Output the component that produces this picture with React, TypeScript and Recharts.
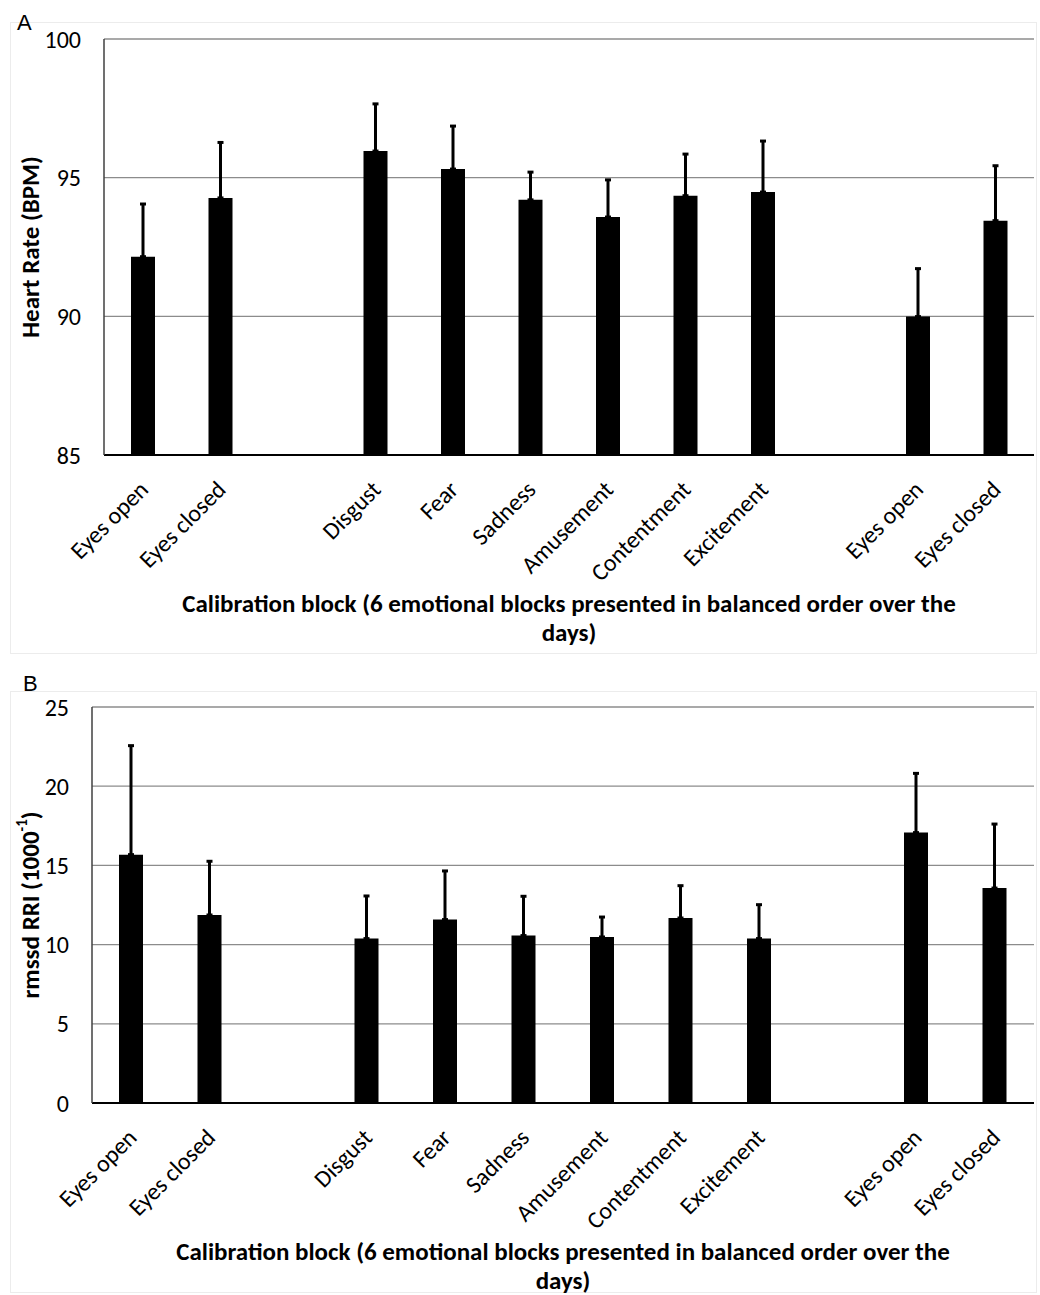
import React from "react";
import {
  BarChart,
  Bar,
  XAxis,
  YAxis,
  CartesianGrid,
  ErrorBar,
  Label,
} from "recharts";

// blank slots separate the baseline / emotional / baseline groups
const categories = [
  "Eyes open",
  "Eyes closed",
  "",
  "Disgust",
  "Fear",
  "Sadness",
  "Amusement",
  "Contentment",
  "Excitement",
  "",
  "Eyes open",
  "Eyes closed",
];

const heartRate = [92.15, 94.27, null, 95.96, 95.31, 94.2, 93.58, 94.35, 94.48, null, 89.99, 93.45];
const heartRateErr = [1.9, 2.0, null, 1.7, 1.55, 1.0, 1.34, 1.5, 1.84, null, 1.73, 1.98];

const rmssd = [15.68, 11.87, null, 10.38, 11.58, 10.57, 10.48, 11.68, 10.38, null, 17.07, 13.57];
const rmssdErr = [6.88, 3.39, null, 2.69, 3.07, 2.48, 1.26, 2.04, 2.14, null, 3.74, 4.04];

const hrTicks = [85, 90, 95, 100];
const rmssdTicks = [0, 5, 10, 15, 20, 25];

const xTitle1 = "Calibration block (6 emotional blocks presented in balanced order over the";
const xTitle2 = "days)";

const FONT = "Carlito, Lato, 'Open Sans', sans-serif";

function buildRows(values: (number | null)[], errs: (number | null)[]) {
  return categories.map((name, i) => ({
    name,
    value: values[i],
    // upward-only error bars
    err: errs[i] == null ? null : [0, errs[i]],
  }));
}

const AngledTick = (props: any) => {
  const { x, y, payload } = props;
  return (
    <text
      transform={`translate(${x + 7},${y + 28}) rotate(-45)`}
      textAnchor="end"
      fontSize={24}
      fontFamily={FONT}
      fill="#000"
    >
      {payload.value}
    </text>
  );
};

const XTitle = (props: any) => {
  const vb = props.viewBox;
  const cx = vb.x + vb.width / 2;
  return (
    <text textAnchor="middle" fontSize={25} fontWeight="bold" fontFamily={FONT} fill="#000">
      <tspan x={cx} y={vb.y + 157}>{xTitle1}</tspan>
      <tspan x={cx} y={vb.y + 186}>{xTitle2}</tspan>
    </text>
  );
};

const YTitle = (props: any) => {
  const vb = props.viewBox;
  const cx = vb.x + 30;
  const cy = vb.y + vb.height / 2;
  return (
    <text
      transform={`translate(${cx},${cy}) rotate(-90)`}
      textAnchor="middle"
      dominantBaseline="central"
      fontSize={25}
      fontWeight="bold"
      fontFamily={FONT}
      fill="#000"
    >
      {props.title}
      {props.sup && (
        <>
          <tspan fontSize={15} dy={-8}>{props.sup}</tspan>
          <tspan dy={8}>)</tspan>
        </>
      )}
    </text>
  );
};

interface PanelProps {
  rows: any[];
  domain: [number, number];
  ticks: number[];
  yWidth: number;
  top: number;
  height: number;
  plotTop: number;
  plotBottom: number;
  title: string;
  sup?: string;
}

function Panel({ rows, domain, ticks, yWidth, top, height, plotTop, plotBottom, title, sup }: PanelProps) {
  return (
    <div style={{ position: "absolute", left: 0, top }}>
      <BarChart
        width={1040}
        height={height}
        data={rows}
        margin={{ top: plotTop, right: 6, bottom: plotBottom, left: 0 }}
        barCategoryGap={0}
      >
        <CartesianGrid vertical={false} stroke="#8c8c8c" strokeWidth={1.3} />
        <XAxis
          dataKey="name"
          height={192}
          tickLine={false}
          interval={0}
          axisLine={{ stroke: "#000", strokeWidth: 2 }}
          tick={<AngledTick />}
        >
          <Label content={<XTitle />} />
        </XAxis>
        <YAxis
          width={yWidth}
          domain={domain}
          ticks={ticks}
          allowDataOverflow
          tickLine={false}
          axisLine={{ stroke: "#404040", strokeWidth: 1.5 }}
          tick={{ fontSize: 24, fill: "#000", fontFamily: FONT, dx: -15 }}
        >
          <Label content={<YTitle title={title} sup={sup} />} />
        </YAxis>
        <Bar dataKey="value" fill="#000" barSize={24} isAnimationActive={false}>
          <ErrorBar dataKey="err" direction="y" width={3} stroke="#000" strokeWidth={3} />
        </Bar>
      </BarChart>
    </div>
  );
}

export default function App() {
  return (
    <div style={{ position: "absolute", left: 0, top: 0, width: 1040, height: 1295, background: "#fff" }}>
      <div style={{ position: "absolute", left: 10, top: 22, width: 1025, height: 630, border: "1px solid #ececec" }} />
      <div style={{ position: "absolute", left: 10, top: 691, width: 1025, height: 600, border: "1px solid #ececec" }} />
      <Panel
        rows={buildRows(heartRate, heartRateErr)}
        domain={[85, 100]}
        ticks={hrTicks}
        yWidth={104}
        top={0}
        height={660}
        plotTop={39}
        plotBottom={13}
        title="Heart Rate (BPM)"
      />
      <Panel
        rows={buildRows(rmssd, rmssdErr)}
        domain={[0, 25]}
        ticks={rmssdTicks}
        yWidth={92}
        top={660}
        height={635}
        plotTop={47}
        plotBottom={0}
        title="rmssd RRI (1000"
        sup="-1"
      />
      <svg width={1040} height={1295} style={{ position: "absolute", left: 0, top: 0, pointerEvents: "none" }}>
        <text x={17} y={30} fontSize={22} fontFamily="'Liberation Sans', Arial, sans-serif" fill="#000">A</text>
        <text x={23} y={691} fontSize={22} fontFamily="'Liberation Sans', Arial, sans-serif" fill="#000">B</text>
      </svg>
    </div>
  );
}
